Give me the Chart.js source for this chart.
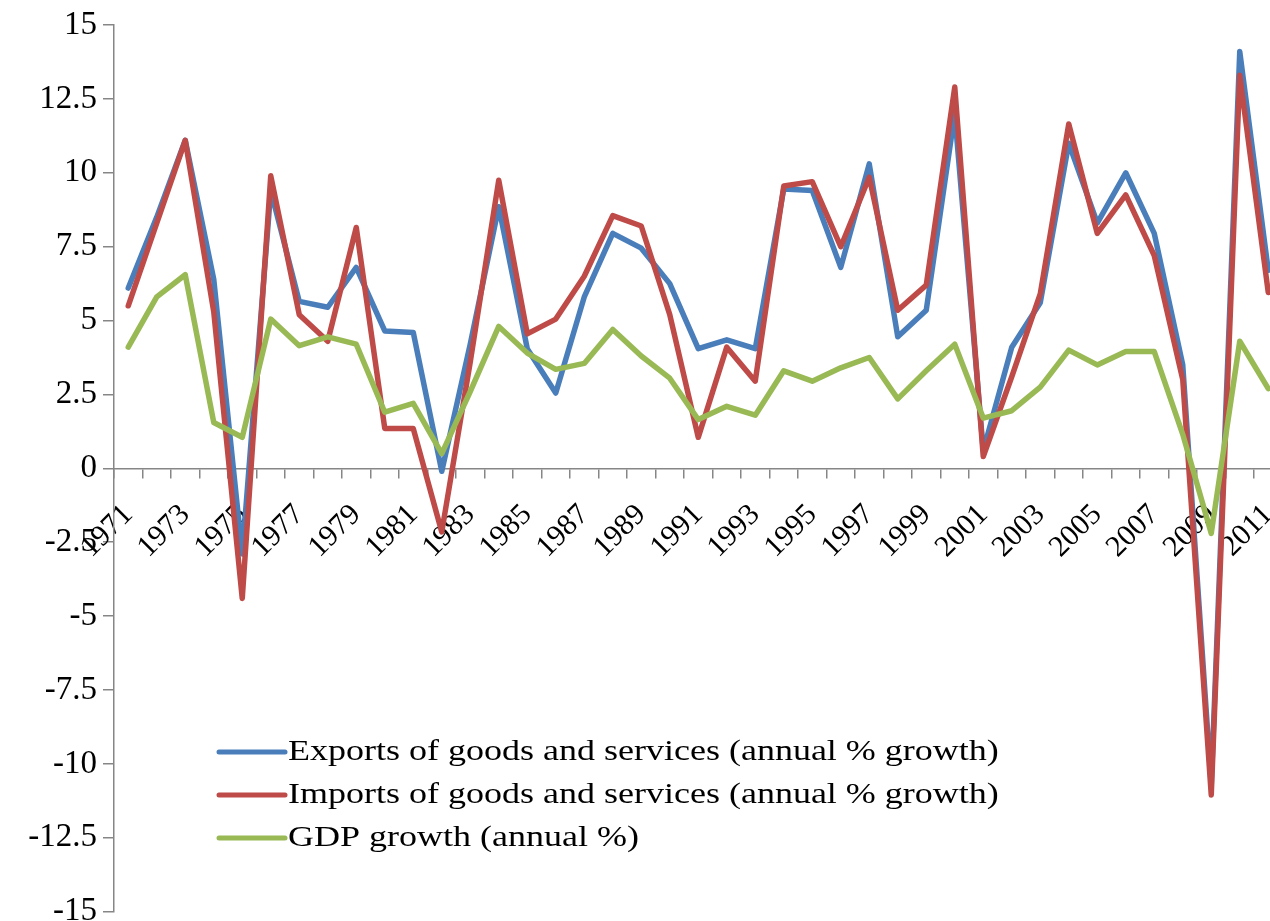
<!DOCTYPE html>
<html>
<head>
<meta charset="utf-8">
<title>Exports, imports and GDP growth</title>
<script src="https://cdn.jsdelivr.net/npm/chart.js@4.4.1/dist/chart.umd.min.js"></script>
<style>
  html, body { margin: 0; padding: 0; background: #fff; overflow: hidden; }
  #wrap { width: 1284px; height: 921px; }
</style>
</head>
<body>
<div id="wrap"><canvas id="chart" width="1284" height="921"></canvas></div>
<script>
// Years on the category axis
const years = [
  1971, 1972, 1973, 1974, 1975, 1976, 1977, 1978, 1979, 1980,
  1981, 1982, 1983, 1984, 1985, 1986, 1987, 1988, 1989, 1990,
  1991, 1992, 1993, 1994, 1995, 1996, 1997, 1998, 1999, 2000,
  2001, 2002, 2003, 2004, 2005, 2006, 2007, 2008, 2009, 2010,
  2011
];

// Exports of goods and services (annual % growth)
const exportsGrowth = [
  6.1, 8.5, 11.1, 6.4, -2.9, 9.4, 5.65, 5.45, 6.8, 4.65,
  4.6, -0.1, 4.2, 8.85, 4.05, 2.55, 5.8, 7.95, 7.45, 6.25,
  4.05, 4.35, 4.05, 9.45, 9.4, 6.8, 10.3, 4.45, 5.35, 12.0,
  0.6, 4.1, 5.6, 11.0, 8.3, 10.0, 7.95, 3.5, -10.7, 14.1,
  6.7
];

// Imports of goods and services (annual % growth)
const importsGrowth = [
  5.5, 8.3, 11.1, 5.3, -4.4, 9.9, 5.2, 4.3, 8.15, 1.35,
  1.35, -2.15, 3.6, 9.75, 4.55, 5.05, 6.5, 8.55, 8.2, 5.2,
  1.05, 4.1, 2.95, 9.55, 9.7, 7.5, 9.85, 5.35, 6.2, 12.9,
  0.4, 3.1, 5.9, 11.65, 7.95, 9.25, 7.2, 3.0, -11.05, 13.3,
  5.95
];

// GDP growth (annual %)
const gdpGrowth = [
  4.1, 5.8, 6.55, 1.55, 1.05, 5.05, 4.15, 4.45, 4.2, 1.9,
  2.2, 0.5, 2.6, 4.8, 3.9, 3.35, 3.55, 4.7, 3.8, 3.05,
  1.65, 2.1, 1.8, 3.3, 2.95, 3.4, 3.75, 2.35, 3.3, 4.2,
  1.7, 1.95, 2.75, 4.0, 3.5, 3.95, 3.95, 1.15, -2.2, 4.3,
  2.7
];

// Value axis range and step
const yMin = -15;
const yMax = 15;
const yStep = 2.5;

const serif = '"Liberation Serif", "Times New Roman", serif';
const axisGrey = '#868686';

// Legend drawn inside the plot, lower left
const inlineLegend = {
  id: 'inlineLegend',
  afterDraw(chart, args, opts) {
    const ctx = chart.ctx;
    ctx.save();
    ctx.font = opts.size + 'px ' + serif;
    ctx.textBaseline = 'middle';
    ctx.textAlign = 'left';
    ctx.fillStyle = '#000';
    chart.data.datasets.forEach((ds, i) => {
      const y = opts.y + i * opts.rowGap;
      ctx.strokeStyle = ds.borderColor;
      ctx.lineWidth = 5;
      ctx.lineCap = 'round';
      ctx.beginPath();
      ctx.moveTo(opts.x, y);
      ctx.lineTo(opts.x + opts.lineLen, y);
      ctx.stroke();
      ctx.save();
      ctx.translate(opts.x + opts.lineLen + 3, y);
      ctx.scale(opts.stretch, 1);
      ctx.fillText(ds.label, 0, 0);
      ctx.restore();
    });
    ctx.restore();
  }
};

const lineStyle = {
  borderWidth: 5.5,
  pointRadius: 0,
  pointHoverRadius: 0,
  tension: 0,
  fill: false,
  borderJoinStyle: 'round',
  borderCapStyle: 'round'
};

new Chart(document.getElementById('chart'), {
  type: 'line',
  data: {
    labels: years.map(String),
    datasets: [
      { label: 'Exports of goods and services (annual % growth)', data: exportsGrowth,
        borderColor: '#4a7ebb', order: 3, ...lineStyle },
      { label: 'Imports of goods and services (annual % growth)', data: importsGrowth,
        borderColor: '#be4b48', order: 2, ...lineStyle },
      { label: 'GDP growth (annual %)', data: gdpGrowth,
        borderColor: '#98b954', order: 1, ...lineStyle }
    ]
  },
  options: {
    responsive: false,
    animation: false,
    layout: { padding: { top: 25, right: 1.5, bottom: 9, left: 0 } },
    plugins: {
      legend: { display: false },
      tooltip: { enabled: false },
      inlineLegend: { x: 219, y: 752, rowGap: 43, lineLen: 66, size: 30, stretch: 1.2 }
    },
    scales: {
      x: {
        type: 'category',
        position: { y: 0 },
        offset: true,
        // rotated labels must not shrink the plot width
        afterFit(scale) { scale.paddingLeft = 0; scale.paddingRight = 0; },
        grid: { offset: true, drawOnChartArea: false, tickLength: 9, color: axisGrey, lineWidth: 1.5 },
        border: { color: axisGrey, width: 1.5 },
        ticks: {
          autoSkip: false,
          minRotation: 45,
          maxRotation: 45,
          padding: 20,
          color: '#000',
          font: { family: serif, size: 30 },
          callback(value, index) {
            return index % 2 === 0 ? this.getLabelForValue(value) : '';
          }
        }
      },
      y: {
        min: yMin,
        max: yMax,
        afterFit(scale) { scale.width = 114; },
        grid: { drawOnChartArea: false, tickLength: 11, color: axisGrey, lineWidth: 1.5 },
        border: { color: axisGrey, width: 1.5 },
        ticks: {
          stepSize: yStep,
          padding: 6,
          color: '#000',
          font: { family: serif, size: 33, lineHeight: 0.2 },
          callback: v => String(v)
        }
      }
    }
  },
  plugins: [inlineLegend]
});
</script>
</body>
</html>
